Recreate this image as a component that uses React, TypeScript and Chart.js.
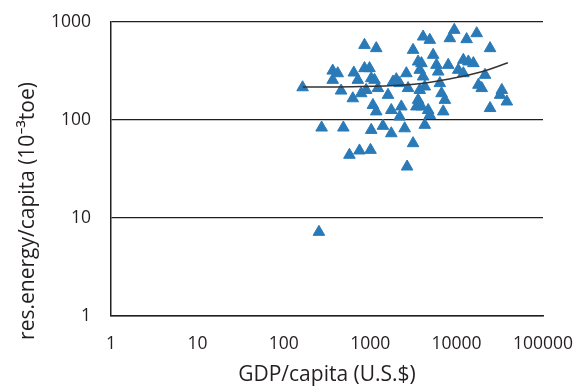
import React, { useEffect, useRef } from "react";
import { Chart, registerables } from "chart.js";

Chart.register(...registerables);

// GDP per capita (U.S.$) for each country
const gdpPerCapita = [
  165, 368, 421, 368, 460, 629, 646, 719, 859, 1175,
  859, 982, 1028, 898, 786, 1122, 1228, 1075, 1175, 1607,
  1754, 1836, 2006, 2192, 2293, 2192, 2622, 3135, 2742, 3584,
  3918, 3746, 4096, 3584, 3427, 3918, 3746, 4283, 4096, 4893,
  5354, 5852, 6124, 6397, 4690, 4893, 4283, 6695, 7307, 8000,
  7003, 9397, 8358, 13060, 17090, 11970, 13680, 15640, 10450, 11970,
  17880, 19540, 21330, 24380, 33370, 31900, 38140, 24380, 274, 489,
  1028, 1404, 1754, 2507, 3135, 575, 751, 1008, 2672, 255,
];

// residential energy per capita (10^-3 toe)
const energyPerCapita = [
  215, 318, 299, 256, 199, 166, 304, 256, 582, 539,
  337, 337, 266, 202, 187, 256, 211, 142, 122, 180,
  126, 246, 260, 237, 137, 108, 299, 518, 211, 394,
  379, 324, 277, 160, 137, 137, 202, 219, 708, 655,
  461, 364, 311, 237, 126, 112, 89, 187, 160, 364,
  122, 829, 681, 666, 766, 410, 394, 379, 324, 299,
  228, 211, 288, 539, 202, 180, 154, 132, 83.5, 83.5,
  79, 86.9, 73, 82, 57.8, 44, 48.7, 49.4, 33.4, 7.2,
];

// trendline
const trendGdp = [166, 786, 2998, 8750, 19500, 39200];
const trendEnergy = [217, 220, 230, 265, 311, 384];

const xTickValues = [1, 10, 100, 1000, 10000, 100000];
const yTickValues = [1, 10, 100, 1000];

const xTitle = "GDP/capita (U.S.$)";
const yTitle = "res.energy/capita (10\u207B\u00B3toe)";

const INK = "#231f20";
const FONT = "'Open Sans', 'Noto Sans', sans-serif";

const zeroPadding = (s: any) => {
  s.paddingTop = 0;
  s.paddingBottom = 0;
  s.paddingLeft = 0;
  s.paddingRight = 0;
};

// draws the y axis title (placed a little below the plot's centre, as in the source)
const yTitlePlugin = {
  id: "yTitle",
  afterDraw(chart: any) {
    const ctx = chart.ctx;
    const area = chart.chartArea;
    ctx.save();
    ctx.translate(28, (area.top + area.bottom) / 2 + 42);
    ctx.rotate(-Math.PI / 2);
    ctx.font = `21px ${FONT}`;
    ctx.fillStyle = INK;
    ctx.textAlign = "center";
    ctx.textBaseline = "middle";
    ctx.fillText(yTitle, 0, 0);
    ctx.restore();
  },
};

export default function App() {
  const ref = useRef<HTMLCanvasElement>(null);

  useEffect(() => {
    const points = gdpPerCapita.map((x, i) => ({ x, y: energyPerCapita[i] }));
    const trend = trendGdp.map((x, i) => ({ x, y: trendEnergy[i] }));
    const chart = new Chart(ref.current!, {
      type: "scatter",
      data: {
        datasets: [
          {
            data: trend,
            showLine: true,
            borderColor: "#333333",
            borderWidth: 1.5,
            pointRadius: 0,
            tension: 0.4,
            order: 0,
          },
          {
            data: points,
            pointStyle: "triangle",
            pointRadius: 6.7,
            backgroundColor: "#2a7ab8",
            borderColor: "#2a7ab8",
            borderWidth: 1,
            order: 1,
          },
        ],
      },
      plugins: [yTitlePlugin],
      options: {
        animation: false,
        responsive: false,
        maintainAspectRatio: false,
        layout: { autoPadding: false, padding: { top: 22, right: 34, left: 0, bottom: 0 } },
        plugins: { legend: { display: false }, tooltip: { enabled: false } },
        scales: {
          x: {
            type: "logarithmic",
            min: 1,
            max: 100000,
            afterBuildTicks: (s: any) => {
              s.ticks = xTickValues.map((v) => ({ value: v }));
            },
            afterFit: (s: any) => {
              s.height = 72;
              zeroPadding(s);
            },
            grid: { display: false, drawTicks: false },
            border: { display: true, color: INK, width: 1.5 },
            ticks: {
              callback: (v: any) => String(v),
              font: { family: FONT, size: 17.5 },
              color: INK,
              padding: 18,
              maxRotation: 0,
              autoSkip: false,
            },
            title: {
              display: true,
              text: xTitle,
              font: { family: FONT, size: 21 },
              color: INK,
              padding: { top: 0, bottom: 0 },
            },
          },
          y: {
            type: "logarithmic",
            min: 1,
            max: 1000,
            afterBuildTicks: (s: any) => {
              s.ticks = yTickValues.map((v) => ({ value: v }));
            },
            afterFit: (s: any) => {
              s.width = 111;
              zeroPadding(s);
            },
            grid: { display: true, drawTicks: false, color: INK, lineWidth: 1.3 },
            border: { display: true, color: INK, width: 1.5 },
            ticks: {
              callback: (v: any) => String(v),
              font: { family: FONT, size: 17.5 },
              color: INK,
              padding: 20,
              autoSkip: false,
            },
            title: { display: false },
          },
        },
      },
    });
    return () => chart.destroy();
  }, []);

  return (
    <div
      style={{
        position: "fixed",
        left: 0,
        top: 0,
        width: 577,
        height: 388,
        background: "#ffffff",
      }}
    >
      <canvas ref={ref} width={577} height={388} style={{ display: "block" }} />
    </div>
  );
}
